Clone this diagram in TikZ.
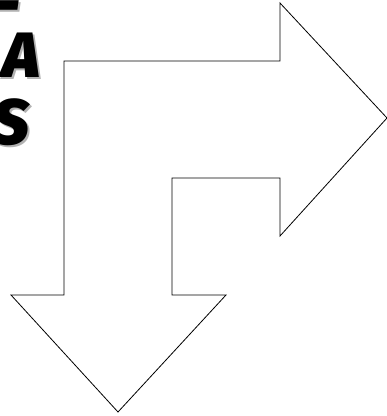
\documentclass[tikz,border=0pt]{standalone}
\usepackage{fontspec}
\setmainfont{Fira Sans}
\newfontfamily\heavyfont{Fira Sans}[UprightFont={* Black Italic}]
\newcommand{\shadowed}[1]{\makebox[0pt][l]{\kern2pt\raisebox{-2pt}{\textcolor{black!30}{#1}}}#1}
\tikzset{
  shape outline/.style={draw=black, line width=0.8pt, fill=white, line join=miter},
  bigletter/.style={font=\fontsize{64}{64}\heavyfont, inner sep=0pt, text=black},
}
\begin{document}
\begin{tikzpicture}[x=1pt,y=1pt]
\useasboundingbox (0,0) rectangle (387,416);
\clip (0,0) rectangle (387,416);
% letters (partly cut at the left edge), with a grey shadow
\node[bigletter, anchor=base east] (ld) at (19,390) {\shadowed{–}};
\node[bigletter, anchor=base east] (la) at (40,338) {\shadowed{A}};
\node[bigletter, anchor=base east] (ls) at (30,271) {\shadowed{S}};
% bent double arrow
\draw[shape outline]
  (64,355) -- (280,355) -- (280,413) -- (387,298) -- (280,180) -- (280,238)
  -- (172,238) -- (172,121) -- (226,121) -- (118,4) -- (11,121) -- (64,121) -- cycle;
\end{tikzpicture}
\end{document}
